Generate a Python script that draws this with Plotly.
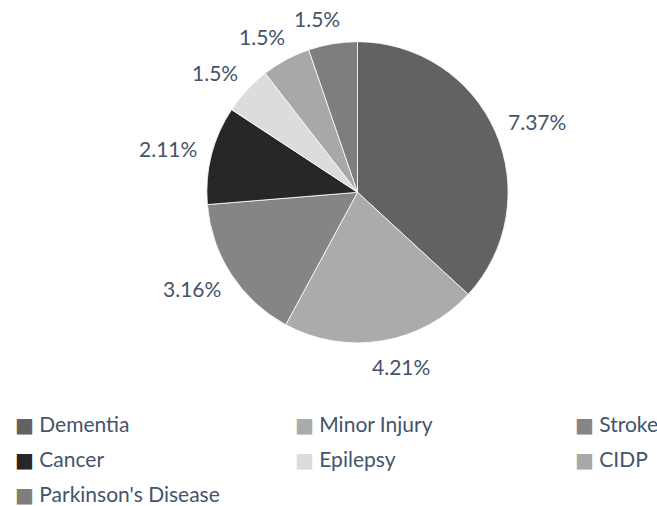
import math
import plotly.graph_objects as go

categories = ["Dementia", "Minor Injury", "Stroke", "Cancer", "Epilepsy", "CIDP", "Parkinson's Disease"]
values = [7.37, 4.21, 3.16, 2.11, 1.05, 1.05, 1.05]
label_text = ["7.37%", "4.21%", "3.16%", "2.11%", "1.5%", "1.5%", "1.5%"]
colors = ["#626262", "#ababab", "#858585", "#272727", "#dcdcdc", "#a8a8a8", "#7e7e7e"]

W, H = 657, 506
cx, cy, r = 357.5, 192.3, 150.6
FONT = "Lato, 'DejaVu Sans', sans-serif"
TXT = "#44546a"

fig = go.Figure(go.Pie(
    labels=categories,
    values=values,
    textinfo="none",
    sort=False,
    direction="clockwise",
    rotation=0,
    marker=dict(colors=colors, line=dict(color="#ffffff", width=0.8)),
    domain=dict(x=[(cx - r) / W, (cx + r) / W], y=[1 - (cy + r) / H, 1 - (cy - r) / H]),
    hoverinfo="label+value",
    showlegend=False,
))

# data labels, placed outside each slice at its mid-angle
total = sum(values)
cum = 0.0
ann = []
R = r + 16
for v, t in zip(values, label_text):
    mid = (cum + v / 2) / total * 2 * math.pi
    cum += v
    s, c = math.sin(mid), math.cos(mid)
    w, h = 11.4 * len(t), 20
    fx = (s + math.copysign(1, s)) / 2
    px = cx + R * s + fx * w / 2
    py = cy - R * c - c * h / 2
    ann.append(dict(x=px / W, y=1 - py / H, xref="paper", yref="paper",
                    text=t, showarrow=False, xanchor="center", yanchor="middle",
                    font=dict(family=FONT, size=21, color=TXT)))

# legend laid out as a 3-column grid
col_x = [13, 293, 573]
row_y = [423, 458, 493]
for i, (name, col) in enumerate(zip(categories, colors)):
    cxl = col_x[i % 3]
    ryl = row_y[i // 3]
    ann.append(dict(x=cxl / W, y=1 - ryl / H, xref="paper", yref="paper",
                    text=f"<span style='color:{col};font-size:20px'>■</span> {name}",
                    showarrow=False, xanchor="left", yanchor="middle",
                    font=dict(family=FONT, size=21, color=TXT)))

fig.update_layout(
    width=W, height=H,
    margin=dict(l=0, r=0, t=0, b=0),
    paper_bgcolor="white",
    plot_bgcolor="white",
    annotations=ann,
)

fig.write_html(
    "out.html",
    config={"displayModeBar": False},
    post_script="document.body.style.margin='0px';document.body.style.overflow='hidden';",
)
